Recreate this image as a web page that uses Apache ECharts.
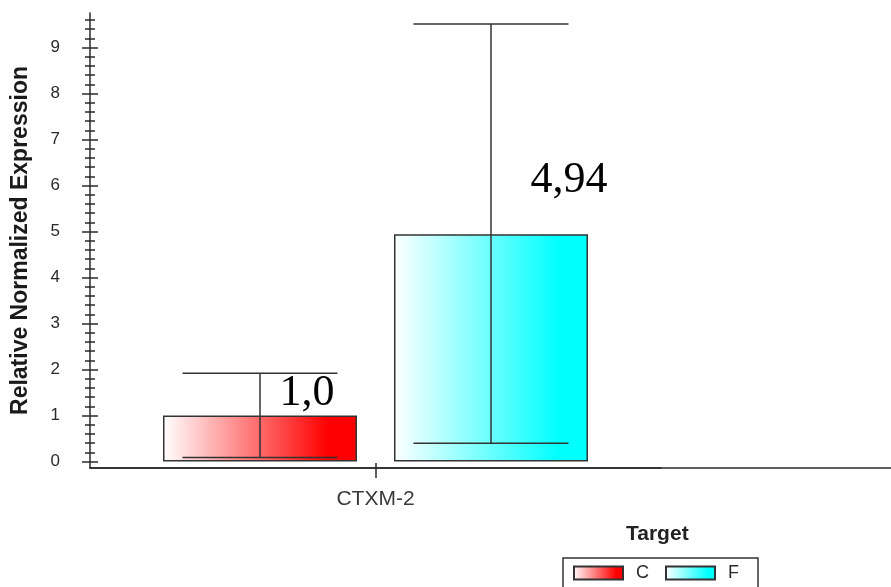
<!DOCTYPE html>
<html>
<head>
<meta charset="utf-8">
<script src="https://cdn.jsdelivr.net/npm/echarts@6/dist/echarts.min.js"></script>
<style>
  html, body { margin: 0; padding: 0; background: #ffffff; }
  #chart { width: 891px; height: 587px; }
</style>
</head>
<body>
<div id="chart"></div>
<script>
// Relative normalized expression of CTXM-2 per group, with error bars
const categories = ['CTXM-2'];
const seriesNames = ['C', 'F'];
const meanValues = [1.0, 4.94];
const errLower = [0.09, 0.40];
const errUpper = [1.92, 9.51];
const labelDecimals = [1, 2];
const yTickValues = [0, 1, 2, 3, 4, 5, 6, 7, 8, 9];
const barColors = ['#ff0000', '#00ffff'];

// Layout
const SANS = '"Liberation Sans", Arial, sans-serif';
const SERIF = '"Liberation Serif", "Times New Roman", serif';
const BAR_W = 194;
const BAR_GAP = 37;
const WHISKER_W = 155;
const Y_MIN = -0.14;
const Y_MAX = 9.75;
const AXIS_COLOR = '#2a2a2a';

// Minor tick positions every 0.2 between the labelled ticks
const minorTicks = [];
for (let i = 1; i <= 48; i++) {
  if (i % 5 !== 0) minorTicks.push(Math.round(i * 2) / 10);
}

function fillGradient(color) {
  return new echarts.graphic.LinearGradient(0, 0, 1, 0, [
    { offset: 0, color: '#ffffff' },
    { offset: 0.85, color: color },
    { offset: 1, color: color }
  ]);
}

function formatComma(v, digits) {
  return v.toFixed(digits).replace('.', ',');
}

const labelOffsets = [[47, 0], [78, -32]];

const barSeries = seriesNames.map((name, i) => ({
  name: name,
  type: 'bar',
  xAxisIndex: 0,
  yAxisIndex: 0,
  barWidth: BAR_W,
  barGap: (BAR_GAP / BAR_W * 100).toFixed(2) + '%',
  data: [meanValues[i]],
  itemStyle: {
    color: fillGradient(barColors[i]),
    borderColor: '#333333',
    borderWidth: 1.5
  },
  label: {
    show: true,
    position: 'top',
    distance: 0,
    offset: labelOffsets[i],
    fontFamily: SERIF,
    fontSize: 44,
    color: '#000000',
    formatter: (p) => formatComma(p.value, labelDecimals[i])
  },
  emphasis: { disabled: true },
  z: 2
}));

const errorData = seriesNames.map((n, i) => [0, errLower[i], errUpper[i], i]);

const errorSeries = {
  name: 'errorBars',
  type: 'custom',
  xAxisIndex: 0,
  yAxisIndex: 0,
  data: errorData,
  encode: { x: 0, y: [1, 2] },
  z: 5,
  silent: true,
  renderItem: function (params, api) {
    const cat = api.value(0);
    const idx = api.value(3);
    const n = seriesNames.length;
    const cx = api.coord([cat, 0])[0] + (idx - (n - 1) / 2) * (BAR_W + BAR_GAP);
    const yLow = api.coord([cat, api.value(1)])[1];
    const yHigh = api.coord([cat, api.value(2)])[1];
    const style = { stroke: '#333333', lineWidth: 1.5 };
    const hw = WHISKER_W / 2;
    return {
      type: 'group',
      children: [
        { type: 'line', shape: { x1: cx, y1: yLow, x2: cx, y2: yHigh }, style: style },
        { type: 'line', shape: { x1: cx - hw, y1: yHigh, x2: cx + hw, y2: yHigh }, style: style },
        { type: 'line', shape: { x1: cx - hw, y1: yLow, x2: cx + hw, y2: yLow }, style: style }
      ]
    };
  }
};

function tickAxis(values, length, inside) {
  return {
    type: 'value',
    gridIndex: 0,
    position: 'left',
    min: Y_MIN,
    max: Y_MAX,
    axisLine: { show: false, onZero: false },
    axisLabel: { show: false },
    splitLine: { show: false },
    axisTick: {
      show: true,
      inside: inside,
      length: length,
      customValues: values,
      lineStyle: { color: AXIS_COLOR, width: 1.5 }
    }
  };
}

const option = {
  backgroundColor: '#ffffff',
  animation: false,
  title: {
    text: 'Target',
    left: 626,
    top: 524,
    padding: 0,
    textStyle: { fontFamily: SANS, fontSize: 21, fontWeight: 'bold', color: '#222222' }
  },
  legend: {
    data: seriesNames,
    orient: 'horizontal',
    left: 563,
    top: 558,
    padding: [6, 19, 6, 10],
    borderColor: '#333333',
    borderWidth: 1.5,
    itemWidth: 49,
    itemHeight: 13,
    itemGap: 16,
    icon: 'rect',
    selectedMode: false,
    textStyle: { fontFamily: SANS, fontSize: 18, color: '#2a2a2a', padding: [0, 0, 0, 8] }
  },
  grid: [
    { left: 90, top: 13, width: 571, bottom: 119, outerBoundsMode: 'none' },
    { left: 90, top: 13, right: 0, bottom: 119, outerBoundsMode: 'none' }
  ],
  xAxis: [
    {
      type: 'category',
      gridIndex: 0,
      position: 'bottom',
      data: categories,
      axisLine: { show: true, onZero: false, lineStyle: { color: AXIS_COLOR, width: 1.5 } },
      axisTick: { show: true, alignWithLabel: true, length: 10, lineStyle: { color: AXIS_COLOR, width: 1.5 } },
      axisLabel: { margin: 21, fontFamily: SANS, fontSize: 21, color: '#3a3a3a' }
    },
    {
      type: 'category',
      gridIndex: 0,
      position: 'bottom',
      data: categories,
      axisLine: { show: false, onZero: false },
      axisTick: { show: true, inside: true, alignWithLabel: true, length: 5, lineStyle: { color: AXIS_COLOR, width: 1.5 } },
      axisLabel: { show: false }
    },
    {
      type: 'category',
      gridIndex: 1,
      position: 'bottom',
      data: [''],
      axisLine: { show: true, onZero: false, lineStyle: { color: AXIS_COLOR, width: 1.5 } },
      axisTick: { show: false },
      axisLabel: { show: false }
    }
  ],
  yAxis: [
    {
      type: 'value',
      gridIndex: 0,
      position: 'left',
      min: Y_MIN,
      max: Y_MAX,
      name: 'Relative Normalized Expression',
      nameLocation: 'middle',
      nameGap: 58,
      nameTextStyle: { fontFamily: SANS, fontSize: 23, fontWeight: 'bold', color: '#1a1a1a' },
      axisLine: { show: true, onZero: false, lineStyle: { color: AXIS_COLOR, width: 1.5 } },
      splitLine: { show: false },
      axisTick: {
        show: true,
        inside: false,
        length: 8,
        customValues: yTickValues,
        lineStyle: { color: AXIS_COLOR, width: 1.5 }
      },
      axisLabel: {
        customValues: yTickValues,
        margin: 30,
        fontFamily: SANS,
        fontSize: 17,
        color: '#2a2a2a'
      }
    },
    tickAxis(yTickValues, 8, true),
    tickAxis(minorTicks, 5, false),
    tickAxis(minorTicks, 5, true),
    { type: 'value', gridIndex: 1, show: false, min: Y_MIN, max: Y_MAX }
  ],
  series: barSeries.concat([errorSeries])
};

const chart = echarts.init(document.getElementById('chart'), null, { renderer: 'canvas' });
chart.setOption(option);
</script>
</body>
</html>
